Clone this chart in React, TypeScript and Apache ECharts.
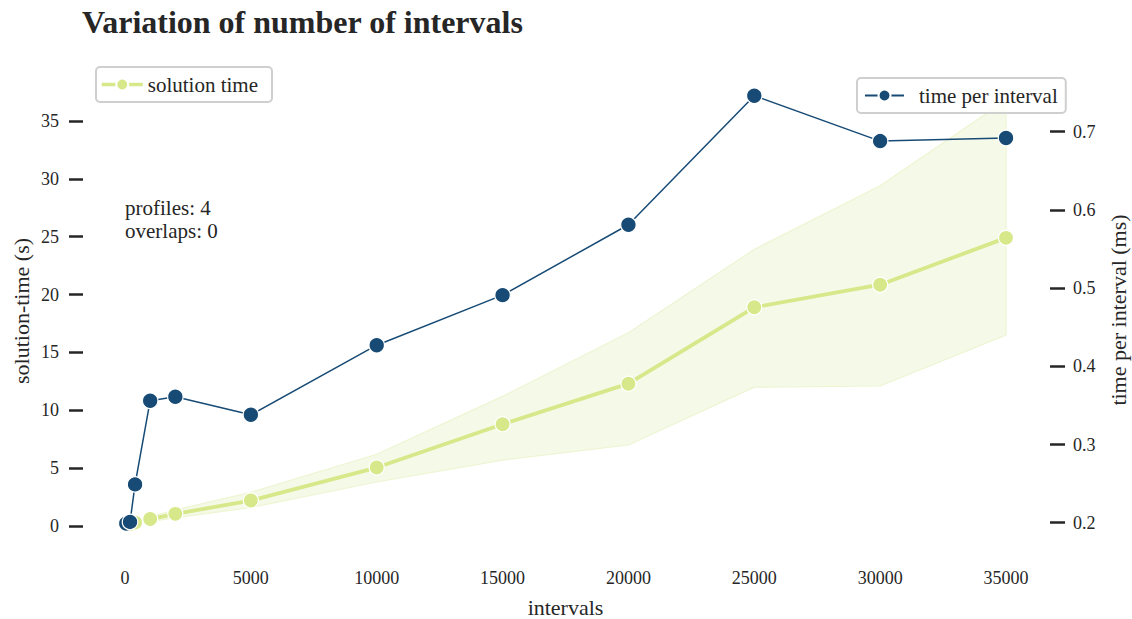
import { useEffect, useRef } from "react";
import * as echarts from "echarts";

// Number of intervals used in each run
const intervals = [50, 200, 400, 1000, 2000, 5000, 10000, 15000, 20000, 25000, 30000, 35000];
// Mean solution time (s) and its confidence band
const solutionTime = [0.1, 0.15, 0.3, 0.6, 1.05, 2.2, 5.05, 8.8, 12.3, 18.9, 20.85, 24.9];
const solutionLow = [0.05, 0.1, 0.2, 0.4, 0.7, 1.6, 3.8, 5.7, 7.0, 12.0, 12.1, 16.5];
const solutionHigh = [0.15, 0.2, 0.4, 0.8, 1.4, 2.9, 6.2, 11.2, 16.7, 23.9, 29.4, 36.8];
// Time per interval (ms)
const timePerInterval = [0.199, 0.201, 0.249, 0.356, 0.361, 0.338, 0.427, 0.491, 0.581, 0.746, 0.688, 0.692];

const xTicks = { min: 0, max: 35000, step: 5000 };
const leftTicks = { min: 0, max: 35, step: 5 };
const rightTicks = { min: 0.2, max: 0.7, step: 0.1 };

const FONT = "'Liberation Serif', 'Palatino Linotype', Palatino, serif";
const INK = "#262626";
const GREEN = "#d6e88a";
const BLUE = "#174b75";

export default function App() {
  const ref = useRef<HTMLDivElement>(null);

  useEffect(() => {
    document.body.style.margin = "0";
    const chart = echarts.init(ref.current!, null, { renderer: "svg" });

    const pairs = (ys: number[]) => intervals.map((x, i) => [x, ys[i]]);

    const tickStyle = { show: true, inside: false, lineStyle: { color: INK, width: 2.5 } };
    const labelStyle = { color: INK, fontSize: 18, fontFamily: FONT };

    chart.setOption({
      animation: false,
      backgroundColor: "#ffffff",
      title: {
        text: "Variation of number of intervals",
        left: 82,
        top: 6,
        padding: 0,
        textStyle: { color: INK, fontSize: 32, fontWeight: "bold", fontFamily: FONT },
      },
      grid: [
        { left: 125, right: 126, top: 121, bottom: 93, outerBoundsMode: "none", containLabel: false },
        { left: 125, right: 126, top: 131.7, bottom: 96.3, outerBoundsMode: "none", containLabel: false },
      ],
      xAxis: [
        {
          type: "value",
          gridIndex: 0,
          min: xTicks.min,
          max: xTicks.max,
          interval: xTicks.step,
          axisLine: { show: false, onZero: false },
          axisTick: { show: false },
          splitLine: { show: false },
          axisLabel: { ...labelStyle, margin: 43, formatter: (v: number) => String(v) },
          name: "intervals",
          nameLocation: "middle",
          nameGap: 70,
          nameTextStyle: { color: INK, fontSize: 22, fontFamily: FONT },
        },
        {
          type: "value",
          gridIndex: 1,
          min: xTicks.min,
          max: xTicks.max,
          interval: xTicks.step,
          show: false,
        },
      ],
      yAxis: [
        {
          type: "value",
          gridIndex: 0,
          position: "left",
          offset: 42,
          min: leftTicks.min,
          max: leftTicks.max,
          interval: leftTicks.step,
          axisLine: { show: false, onZero: false },
          axisTick: { ...tickStyle, length: 14 },
          splitLine: { show: false },
          axisLabel: { ...labelStyle, margin: 24 },
        },
        {
          type: "value",
          gridIndex: 1,
          position: "right",
          offset: 44,
          min: rightTicks.min,
          max: rightTicks.max,
          interval: rightTicks.step,
          axisLine: { show: false, onZero: false },
          axisTick: { ...tickStyle, length: 15 },
          splitLine: { show: false },
          axisLabel: { ...labelStyle, margin: 23 },
        },
      ],
      legend: [
        {
          data: ["solution time"],
          left: 96,
          top: 67,
          orient: "horizontal",
          padding: [7, 14, 7, 4],
          itemWidth: 41,
          itemHeight: 15,
          lineStyle: { width: 3.5 },
          borderColor: "#cfcfcf",
          borderWidth: 2,
          borderRadius: 4,
          backgroundColor: "rgba(255,255,255,0.8)",
          textStyle: { color: INK, fontSize: 21, fontFamily: FONT },
          z: 10,
        },
        {
          data: ["time per interval"],
          left: 857,
          top: 78,
          orient: "horizontal",
          padding: [7, 8, 7, 7],
          itemWidth: 39,
          itemHeight: 15,
          borderColor: "#cfcfcf",
          borderWidth: 2,
          borderRadius: 4,
          backgroundColor: "rgba(255,255,255,0.8)",
          textStyle: { color: INK, fontSize: 21, fontFamily: FONT, padding: [0, 0, 0, 10] },
          z: 10,
        },
      ],
      graphic: [
        {
          type: "text",
          left: 125,
          top: 196,
          z: 20,
          style: {
            text: "profiles: 4\noverlaps: 0",
            fill: INK,
            font: `21px ${FONT}`,
            lineHeight: 23,
          },
        },
        {
          type: "text",
          x: 21,
          y: 311,
          rotation: Math.PI / 2,
          z: 20,
          style: {
            text: "solution-time (s)",
            fill: INK,
            font: `22px ${FONT}`,
            align: "center",
            verticalAlign: "middle",
          },
        },
        {
          type: "text",
          x: 1118,
          y: 310,
          rotation: Math.PI / 2,
          z: 20,
          style: {
            text: "time per interval (ms)",
            fill: INK,
            font: `22px ${FONT}`,
            align: "center",
            verticalAlign: "middle",
          },
        },
      ],
      series: [
        {
          name: "band",
          type: "custom",
          xAxisIndex: 0,
          yAxisIndex: 0,
          data: intervals.map((x, i) => [x, solutionLow[i], solutionHigh[i]]),
          encode: { x: 0, y: [1, 2] },
          clip: false,
          silent: true,
          z: 1,
          renderItem: (params: any, api: any) => {
            if (params.dataIndex !== 0) return { type: "group", children: [] };
            const upper = intervals.map((x, i) => api.coord([x, solutionHigh[i]]));
            const lower = intervals.map((x, i) => api.coord([x, solutionLow[i]])).reverse();
            return {
              type: "polygon",
              shape: { points: [...upper, ...lower] },
              style: { fill: "#f5f9e7", stroke: "#edf5d3", lineWidth: 1.2 },
            };
          },
        },
        {
          name: "solution time",
          type: "line",
          xAxisIndex: 0,
          yAxisIndex: 0,
          data: pairs(solutionTime),
          symbol: "circle",
          symbolSize: 15,
          clip: false,
          lineStyle: { color: GREEN, width: 3.8 },
          itemStyle: { color: GREEN, borderColor: "#ffffff", borderWidth: 1.2 },
          z: 2,
        },
        {
          name: "time per interval",
          type: "line",
          xAxisIndex: 1,
          yAxisIndex: 1,
          data: pairs(timePerInterval),
          symbol: "circle",
          symbolSize: 15.5,
          clip: false,
          lineStyle: { color: BLUE, width: 1.5 },
          itemStyle: { color: BLUE, borderColor: "#ffffff", borderWidth: 1.2 },
          z: 3,
        },
      ],
    });

    return () => chart.dispose();
  }, []);

  return <div ref={ref} style={{ width: 1132, height: 619 }} />;
}
